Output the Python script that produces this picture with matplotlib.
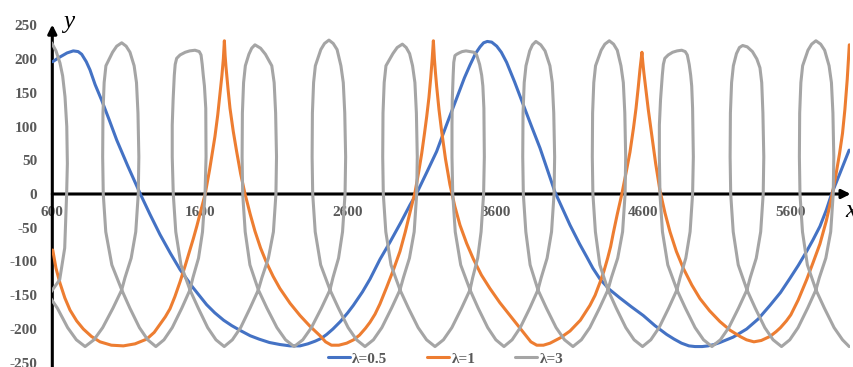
import matplotlib
matplotlib.use("Agg")
import matplotlib.pyplot as plt

# ---- data ----
labels = ["λ=0.5", "λ=1", "λ=3"]
colors = ["#4472C4", "#ED7D31", "#A5A5A5"]
x_ticks = [600, 1600, 2600, 3600, 4600, 5600]
y_ticks = [-250, -200, -150, -100, -50, 0, 50, 100, 150, 200, 250]

blue_x = [603, 630, 652, 700, 742, 775, 799, 830, 855, 890, 934, 985, 1036, 1110, 1194, 1261,
          1329, 1400, 1465, 1550, 1645, 1700, 1760, 1815, 1871, 1940, 2000, 2070, 2141, 2210,
          2277, 2330, 2380, 2420, 2458, 2500, 2550, 2600, 2638, 2700, 2751, 2818, 2887, 2960,
          3022, 3067, 3135, 3202, 3270, 3338, 3390, 3428, 3465, 3496, 3520, 3545, 3575, 3609,
          3640, 3676, 3730, 3789, 3845, 3902, 4003, 4105, 4170, 4218, 4260, 4308, 4370, 4443,
          4520, 4601, 4680, 4759, 4810, 4860, 4910, 4951, 5000, 5040, 5080, 5120, 5210, 5301,
          5380, 5459, 5530, 5594, 5650, 5707, 5750, 5797, 5840, 5876, 5935, 5995]
blue_y = [196, 200, 203, 209, 212, 211, 207, 196, 184, 162, 139, 110, 80, 42, 1, -30,
          -60, -88, -112, -138, -164, -176, -187, -195, -202, -210, -215, -220, -223, -225,
          -225, -222, -218, -214, -208, -200, -189, -176, -165, -145, -126, -97, -71, -42,
          -16, 1, 32, 63, 103, 142, 172, 191, 208, 218, 224, 226, 225, 219,
          210, 195, 166, 132, 100, 68, 3, -46, -74, -93, -110, -126, -141, -154,
          -167, -180, -195, -208, -215, -221, -225, -226, -226, -225, -223, -220, -212, -200,
          -185, -165, -146, -125, -106, -85, -68, -48, -24, 0, 32, 65]

orange_x = [603, 625, 652, 685, 720, 765, 810, 865, 923, 1000, 1081, 1160, 1239, 1290, 1329,
            1365, 1397, 1430, 1465, 1500, 1530, 1555, 1578, 1605, 1635, 1665, 1701, 1720, 1735,
            1748, 1758, 1765,
            1770, 1776, 1790, 1803, 1825, 1848, 1875, 1905, 1940, 1972, 2010, 2051, 2095, 2141,
            2210, 2277, 2345, 2413, 2450, 2490, 2540, 2593, 2640, 2680, 2720, 2751, 2785, 2818,
            2864, 2910, 2954, 2990, 3022, 3056, 3080, 3101, 3120, 3135, 3150, 3162, 3172, 3180,
            3187, 3194, 3202, 3218, 3236, 3262, 3292, 3325, 3360, 3405, 3450, 3505, 3563, 3630,
            3699, 3760, 3812, 3840, 3880, 3925, 3970, 4040, 4105, 4175, 4240, 4275, 4308, 4335,
            4360, 4380, 4398, 4425, 4455, 4485, 4511, 4535, 4552, 4567, 4579, 4587, 4592,
            4598, 4605, 4613, 4635, 4658, 4685, 4714, 4748, 4782, 4825, 4872, 4930, 4985, 5050,
            5120, 5190, 5256, 5300, 5350, 5400, 5459, 5500, 5530, 5570, 5600, 5650, 5707, 5750,
            5797, 5840, 5876, 5905, 5930, 5950, 5966, 5982, 5996]
orange_y = [-83, -110, -132, -154, -172, -188, -200, -211, -219, -224, -225, -222, -215, -205, -193,
            -182, -170, -152, -130, -106, -84, -66, -48, -25, 0, 36, 85, 117, 148,
            175, 200, 227,
            205, 188, 155, 127, 93, 63, 30, 0, -30, -55, -80, -102, -122, -140,
            -162, -180, -196, -210, -219, -224, -224, -221, -216, -209, -199, -190, -178, -163,
            -138, -112, -85, -56, -27, 3, 32, 60, 90, 115, 143, 172, 200, 227,
            200, 180, 160, 125, 93, 52, 14, -18, -46, -73, -96, -120, -140, -161,
            -180, -197, -211, -219, -224, -224, -221, -213, -203, -187, -165, -150, -131, -114,
            -95, -78, -58, -30, -1, 32, 62, 98, 127, 158, 185, 200, 210,
            195, 180, 165, 125, 88, 45, 5, -28, -56, -85, -110, -135, -155, -173,
            -189, -202, -211, -216, -219, -217, -211, -204, -198, -188, -179, -157, -127, -102,
            -74, -40, -5, 28, 60, 90, 125, 170, 221]

# gray curve loops back on itself, so the points follow the path order:
# each row is one loop (up the right leg, over the top, down the left leg),
# then the U-shaped bottom to the next loop
gray_x = [520,
          575, 650, 684, 697, 702, 698, 686, 670, 652, 625, 595, 565, 535, 505, 488, 483, 483, 500, 530, 575,
          634, 704, 763, 822, 882, 941, 1011,
          1070, 1092, 1134, 1165, 1182, 1186, 1180, 1170, 1154, 1126, 1100, 1070, 1036, 1008, 963, 951, 943, 941, 945, 962, 1003, 1070,
          1125, 1190, 1246, 1301, 1356, 1412, 1477,
          1532, 1552, 1590, 1617, 1634, 1641, 1639, 1630, 1622, 1615, 1607, 1595, 1566, 1530, 1500, 1465, 1442, 1432, 1426, 1418, 1412, 1412, 1419, 1436, 1471, 1532,
          1588, 1652, 1708, 1764, 1819, 1875, 1939,
          1995, 2019, 2063, 2097, 2114, 2118, 2112, 2102, 2086, 2043, 2010, 1972, 1950, 1931, 1907, 1895, 1887, 1885, 1889, 1906, 1938, 1995,
          2053, 2121, 2179, 2237, 2296, 2354, 2422,
          2480, 2500, 2538, 2565, 2582, 2586, 2580, 2570, 2554, 2528, 2502, 2473, 2443, 2418, 2381, 2369, 2361, 2359, 2363, 2380, 2417, 2480,
          2537, 2603, 2660, 2717, 2774, 2831, 2897,
          2954, 2977, 3018, 3050, 3067, 3071, 3065, 3055, 3039, 3019, 2996, 2970, 2935, 2906, 2859, 2847, 2839, 2837, 2841, 2858, 2893, 2954,
          3011, 3077, 3134, 3191, 3248, 3305, 3371,
          3428, 3446, 3480, 3503, 3520, 3525, 3522, 3515, 3507, 3493, 3473, 3455, 3401, 3375, 3355, 3338, 3326, 3318, 3314, 3308, 3306, 3306, 3311, 3328, 3365, 3428,
          3483, 3548, 3603, 3658, 3713, 3768, 3833,
          3888, 3910, 3950, 3980, 3997, 4001, 3995, 3985, 3969, 3936, 3907, 3874, 3851, 3832, 3807, 3795, 3787, 3785, 3789, 3806, 3835, 3888,
          3945, 4011, 4068, 4125, 4182, 4239, 4305,
          4362, 4385, 4428, 4461, 4478, 4482, 4476, 4466, 4450, 4425, 4400, 4371, 4341, 4316, 4278, 4266, 4258, 4256, 4260, 4277, 4307, 4362,
          4418, 4483, 4539, 4596, 4652, 4708, 4773,
          4829, 4850, 4889, 4918, 4935, 4940, 4935, 4929, 4922, 4912, 4899, 4885, 4861, 4830, 4800, 4770, 4747, 4737, 4730, 4718, 4710, 4710, 4714, 4731, 4767, 4829,
          4886, 4952, 5009, 5066, 5123, 5180, 5246,
          5303, 5325, 5366, 5396, 5413, 5417, 5411, 5403, 5391, 5370, 5340, 5305, 5274, 5252, 5232, 5211, 5199, 5191, 5189, 5193, 5210, 5244, 5303,
          5359, 5424, 5480, 5537, 5593, 5649, 5714,
          5770, 5793, 5837, 5870, 5887, 5891, 5885, 5875, 5859, 5829, 5802, 5770, 5741, 5716, 5680, 5668, 5660, 5658, 5662, 5679, 5712, 5770,
          5827, 5893, 5950, 5995]
gray_y = [-185,
          -150, -127, -80, 0, 45, 100, 144, 175, 194, 212, 224, 218, 205, 180, 140, 80, 0, -56, -105, -150,
          -169, -198, -216, -226, -216, -198, -169,
          -142, -124, -95, -56, 0, 55, 120, 165, 190, 210, 219, 224, 219, 210, 190, 165, 120, 55, 0, -56, -105, -142,
          -169, -198, -216, -226, -216, -198, -169,
          -142, -124, -95, -56, 0, 55, 127, 160, 176, 192, 206, 211, 213, 212, 210, 206, 201, 192, 176, 140, 102, 55, 0, -56, -105, -142,
          -169, -198, -216, -226, -216, -198, -169,
          -142, -124, -95, -56, 0, 55, 120, 165, 190, 207, 216, 221, 216, 207, 190, 165, 120, 55, 0, -56, -105, -142,
          -169, -198, -216, -226, -216, -198, -169,
          -142, -124, -95, -56, 0, 55, 120, 165, 190, 214, 223, 228, 223, 214, 190, 165, 120, 55, 0, -56, -105, -142,
          -169, -198, -216, -226, -216, -198, -169,
          -142, -124, -95, -56, 0, 55, 120, 165, 190, 208, 217, 222, 217, 208, 190, 165, 120, 55, 0, -56, -105, -142,
          -169, -198, -216, -226, -216, -198, -169,
          -142, -124, -95, -56, 0, 55, 127, 160, 176, 192, 206, 210, 212, 211, 209, 207, 205, 195, 176, 140, 102, 55, 0, -56, -105, -142,
          -169, -198, -216, -226, -216, -198, -169,
          -142, -124, -95, -56, 0, 55, 120, 165, 190, 212, 221, 226, 221, 212, 190, 165, 120, 55, 0, -56, -105, -142,
          -169, -198, -216, -226, -216, -198, -169,
          -142, -124, -95, -56, 0, 55, 120, 165, 190, 213, 222, 227, 222, 213, 190, 165, 120, 55, 0, -56, -105, -142,
          -169, -198, -216, -226, -216, -198, -169,
          -142, -124, -95, -56, 0, 55, 127, 160, 176, 192, 206, 211, 213, 212, 210, 206, 201, 192, 176, 140, 102, 55, 0, -56, -105, -142,
          -169, -198, -216, -226, -216, -198, -169,
          -142, -124, -95, -56, 0, 55, 120, 165, 187, 200, 211, 218, 220, 217, 208, 190, 165, 120, 55, 0, -56, -105, -142,
          -169, -198, -216, -226, -216, -198, -169,
          -142, -124, -95, -56, 0, 55, 120, 165, 190, 213, 222, 227, 222, 213, 190, 165, 120, 55, 0, -56, -105, -142,
          -169, -198, -216, -226]

TEXT_GRAY = "#595959"
plt.rcParams["font.family"] = ["Liberation Serif", "DejaVu Serif"]
plt.rcParams["axes.unicode_minus"] = False

fig = plt.figure(figsize=(8.54, 3.67), dpi=100)
ax = fig.add_axes([52.3 / 854, 4.25 / 367, 797.6 / 854, 337.5 / 367])

series = [(blue_x, blue_y), (orange_x, orange_y), (gray_x, gray_y)]
for (xs, ys), lab, col in zip(series, labels, colors):
    ax.plot(xs, ys, color=col, lw=2.2, label=lab, solid_joinstyle="round",
            solid_capstyle="round", zorder=3)

ax.set_xlim(600, 6000)
ax.set_ylim(-250, 250)

# axes drawn as arrows, x tick labels sit under the y=0 line
for s in ax.spines.values():
    s.set_visible(False)
ax.spines["bottom"].set_position(("data", 0))
ax.set_xticks(x_ticks)
ax.set_yticks(y_ticks)
ax.tick_params(axis="x", length=0, pad=9, labelsize=11, labelcolor=TEXT_GRAY)
ax.tick_params(axis="y", length=0, pad=10.8, labelsize=11, labelcolor=TEXT_GRAY)
for lbl in ax.get_xticklabels() + ax.get_yticklabels():
    lbl.set_fontweight("bold")

arrow = dict(arrowstyle="-|>", lw=2.2, color="black", mutation_scale=13, shrinkA=0, shrinkB=0)
ax.annotate("", xy=(600, 251), xytext=(600, -262), arrowprops=arrow,
            annotation_clip=False, zorder=2)
ax.annotate("", xy=(6005, 0), xytext=(600, 0), arrowprops=arrow,
            annotation_clip=False, zorder=2)

ax.text(672, 246, "y", fontsize=18, style="italic", ha="left", va="baseline",
        clip_on=False)
ax.text(5967, -34, "x", fontsize=18, style="italic", ha="left", va="baseline",
        clip_on=False)

leg = ax.legend(loc="center", bbox_to_anchor=(0.5217, 0.022), bbox_transform=fig.transFigure,
                ncol=3, frameon=False, handlelength=1.45, handletextpad=0.15,
                columnspacing=2.6, borderpad=0, prop={"weight": "bold", "size": 11},
                labelcolor=TEXT_GRAY)

fig.savefig("out.png", dpi=100, facecolor="white")
